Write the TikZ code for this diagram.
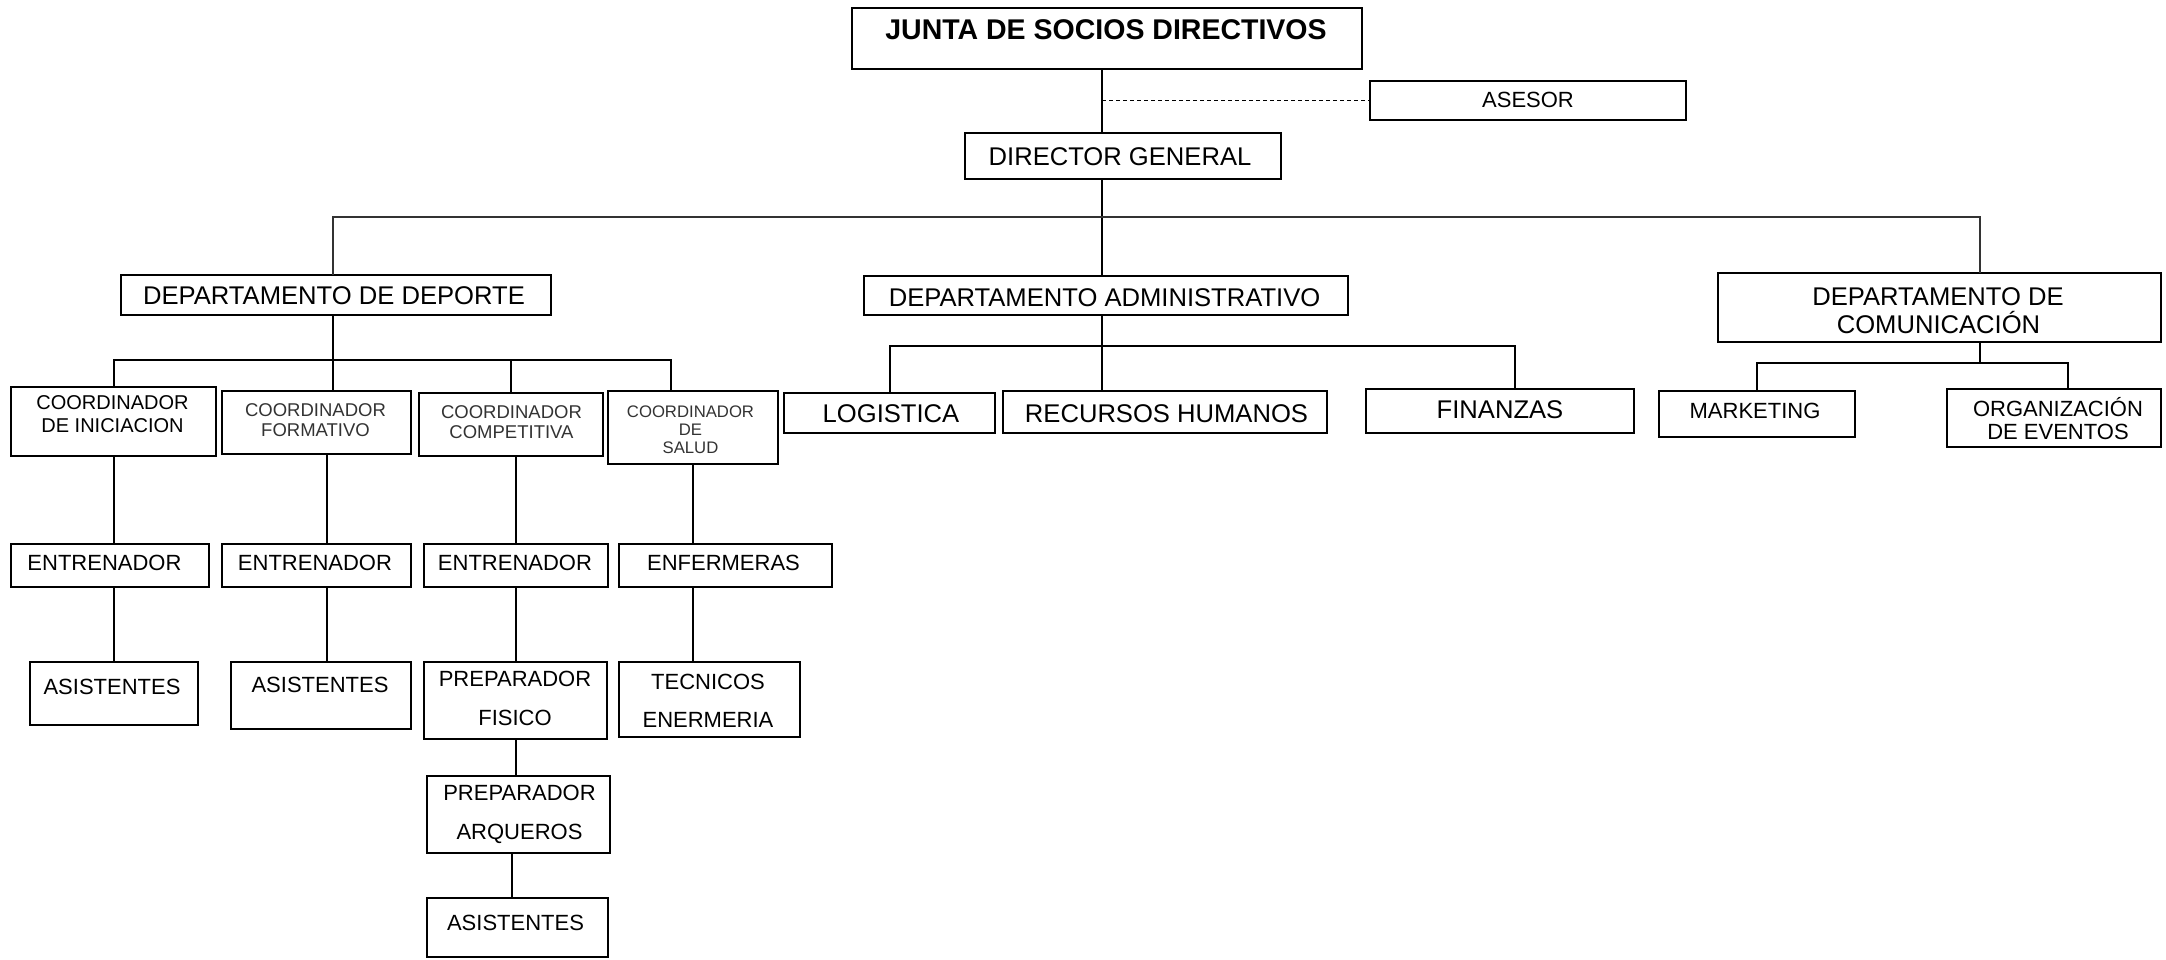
\documentclass[tikz,border=0pt]{standalone}
\usepackage{fontspec}
\setmainfont{Liberation Sans}
\newcommand\myfs[1]{\fontsize{#1}{#1}\selectfont}
\begin{document}
\begin{tikzpicture}[x=1pt,y=-1pt,
  box/.style={draw,line width=2pt,fill=white,inner sep=0pt,outer sep=0pt,anchor=north west},
  lbl/.style={inner sep=0pt,anchor=base,text=black},
  lblg/.style={inner sep=0pt,anchor=base,text=black!80},
  con/.style={line width=2pt,draw=black},
  bigcon/.style={line width=2.6pt,draw=black!80},
  dashcon/.style={line width=1.7pt,draw=black,dash pattern=on 4pt off 3pt}]
\useasboundingbox (0,0) rectangle (2166,959);

% boxes
\node[box,minimum width=510pt,minimum height=61pt] (junta) at (852,8) {};
\node[box,minimum width=316pt,minimum height=39pt] (asesor) at (1370,81) {};
\node[box,minimum width=316pt,minimum height=46pt] (director) at (965,133) {};
\node[box,minimum width=430pt,minimum height=40pt] (ddep) at (121,275) {};
\node[box,minimum width=484pt,minimum height=39pt] (dadmin) at (864,276) {};
\node[box,minimum width=443pt,minimum height=69pt] (dcom) at (1718,273) {};
\node[box,minimum width=211pt,minimum height=40pt] (logistica) at (784,393) {};
\node[box,minimum width=324pt,minimum height=42pt] (rrhh) at (1003,391) {};
\node[box,minimum width=268pt,minimum height=44pt] (finanzas) at (1366,389) {};
\node[box,minimum width=196pt,minimum height=46pt] (marketing) at (1659,391) {};
\node[box,minimum width=214pt,minimum height=58pt] (orgev) at (1947,389) {};
\node[box,minimum width=205pt,minimum height=69pt] (cini) at (11,387) {};
\node[box,minimum width=189pt,minimum height=63pt] (cform) at (222,391) {};
\node[box,minimum width=184pt,minimum height=63pt] (ccomp) at (419,393) {};
\node[box,minimum width=170pt,minimum height=73pt] (csal) at (608,391) {};
\node[box,minimum width=198pt,minimum height=43pt] (ent1) at (11,544) {};
\node[box,minimum width=189pt,minimum height=43pt] (ent2) at (222,544) {};
\node[box,minimum width=184pt,minimum height=43pt] (ent3) at (424,544) {};
\node[box,minimum width=213pt,minimum height=43pt] (enf) at (619,544) {};
\node[box,minimum width=168pt,minimum height=63pt] (asis1) at (30,662) {};
\node[box,minimum width=180pt,minimum height=67pt] (asis2) at (231,662) {};
\node[box,minimum width=183pt,minimum height=77pt] (pfis) at (424,662) {};
\node[box,minimum width=181pt,minimum height=75pt] (tec) at (619,662) {};
\node[box,minimum width=183pt,minimum height=77pt] (parq) at (427,776) {};
\node[box,minimum width=181pt,minimum height=59pt] (asis3) at (427,898) {};

% helper coordinates
\coordinate (tx) at (1102,0);
\coordinate (busA) at (1102,217);
\coordinate (busD) at (333,360);
\coordinate (busM) at (1102,346);
\coordinate (busC) at (1980,363);
\coordinate (s2) at (327,0);
\coordinate (s3) at (512,0);

% connectors
\draw[con] (tx |- junta.south) -- (tx |- director.north);
\draw[con] (tx |- director.south) -- (tx |- dadmin.north);
\draw[dashcon] (tx |- asesor.west) -- (asesor.west);
\draw[bigcon] (busD |- ddep.north) |- (busA) -| ([xshift=40.5pt]dcom.north);
\draw[con] ([xshift=16.5pt]cform.north) -- (busD |- ddep.south);
\draw[con] (cini.north) |- (busD) -| ([xshift=-22pt]csal.north);
\draw[con] (ccomp.north) -- (ccomp.north |- busD);
\draw[con] (cini.south) -- (cini.south |- ent1.north);
\draw[con] (asis1.north) -- (asis1.north |- ent1.south);
\draw[con] (s2 |- cform.south) -- (s2 |- ent2.north);
\draw[con] (s2 |- ent2.south) -- (s2 |- asis2.north);
\draw[con] (ent3.north) -- (ent3.north |- ccomp.south);
\draw[con] (ent3.south) -- (ent3.south |- pfis.north);
\draw[con] (pfis.south) -- (pfis.south |- parq.north);
\draw[con] (s3 |- parq.south) -- (s3 |- asis3.north);
\draw[con] (csal.south) -- (csal.south |- enf.north);
\draw[con] (csal.south |- enf.south) -- (csal.south |- tec.north);
\draw[con] (tx |- dadmin.south) -- (tx |- rrhh.north);
\draw[con] (logistica.north) |- (busM) -| ([xshift=15pt]finanzas.north);
\draw[con] ([xshift=40.5pt]dcom.south) -- (busC);
\draw[con] (marketing.north) |- (busC) -| ([xshift=14pt]orgev.north);

% texts
\node[lbl,font=\bfseries\myfs{28.5}] (junta-t) at (1106,39.2) {JUNTA DE SOCIOS DIRECTIVOS};
\node[lbl,font=\myfs{22}] (asesor-t) at (1528,107.9) {ASESOR};
\node[lbl,font=\myfs{25.6}] (director-t) at (1120,165.2) {DIRECTOR GENERAL};
\node[lbl,font=\myfs{25.6}] (dadmin-t) at (1104.5,306.2) {DEPARTAMENTO ADMINISTRATIVO};
\node[lbl,font=\myfs{25.6}] (ddep-t) at (334,304.2) {DEPARTAMENTO DE DEPORTE};
\node[lbl,font=\myfs{25.6}] (dcom-t1) at (1938,305.2) {DEPARTAMENTO DE};
\node[lbl,font=\myfs{25.6}] (dcom-t2) at (1938.5,333.2) {COMUNICACIÓN};
\node[lbl,font=\myfs{25.6}] (logistica-t) at (891,422.2) {LOGISTICA};
\node[lbl,font=\myfs{25.6}] (rrhh-t) at (1166.5,422.2) {RECURSOS HUMANOS};
\node[lbl,font=\myfs{25.6}] (finanzas-t) at (1500,418.2) {FINANZAS};
\node[lbl,font=\myfs{22}] (marketing-t) at (1755,418.9) {MARKETING};
\node[lbl,font=\myfs{22}] (orgev-t1) at (2058,416.9) {ORGANIZACIÓN};
\node[lbl,font=\myfs{22}] (orgev-t2) at (2058,439.9) {DE EVENTOS};
\node[lbl,font=\myfs{20}] (cini-t1) at (112.5,409.2) {COORDINADOR};
\node[lbl,font=\myfs{20}] (cini-t2) at (112.5,432.2) {DE INICIACION};
\node[lblg,font=\myfs{18.5}] (cform-t1) at (315.5,416.6) {COORDINADOR};
\node[lblg,font=\myfs{18.5}] (cform-t2) at (315.5,436.6) {FORMATIVO};
\node[lblg,font=\myfs{18.5}] (ccomp-t1) at (511.5,418.6) {COORDINADOR};
\node[lblg,font=\myfs{18.5}] (ccomp-t2) at (511.5,438.6) {COMPETITIVA};
\node[lblg,font=\myfs{16.7}] (csal-t1) at (690.5,417) {COORDINADOR};
\node[lblg,font=\myfs{16.7}] (csal-t2) at (690.5,435) {DE};
\node[lblg,font=\myfs{16.7}] (csal-t3) at (690.5,453) {SALUD};
\node[lbl,font=\myfs{22}] (ent1-t) at (104.5,570.9) {ENTRENADOR};
\node[lbl,font=\myfs{22}] (ent2-t) at (315,570.9) {ENTRENADOR};
\node[lbl,font=\myfs{22}] (ent3-t) at (515,570.9) {ENTRENADOR};
\node[lbl,font=\myfs{22}] (enf-t) at (723.5,570.9) {ENFERMERAS};
\node[lbl,font=\myfs{22}] (asis1-t) at (112,694.9) {ASISTENTES};
\node[lbl,font=\myfs{22}] (asis2-t) at (320,692.9) {ASISTENTES};
\node[lbl,font=\myfs{22}] (pfis-t1) at (515,686.9) {PREPARADOR};
\node[lbl,font=\myfs{22}] (pfis-t2) at (515,725.9) {FISICO};
\node[lbl,font=\myfs{22}] (tec-t1) at (708,689.9) {TECNICOS};
\node[lbl,font=\myfs{22}] (tec-t2) at (708,727.9) {ENERMERIA};
\node[lbl,font=\myfs{22}] (parq-t1) at (519.5,800.9) {PREPARADOR};
\node[lbl,font=\myfs{22}] (parq-t2) at (519.5,839.9) {ARQUEROS};
\node[lbl,font=\myfs{22}] (asis3-t) at (515.5,930.9) {ASISTENTES};
\end{tikzpicture}
\end{document}
